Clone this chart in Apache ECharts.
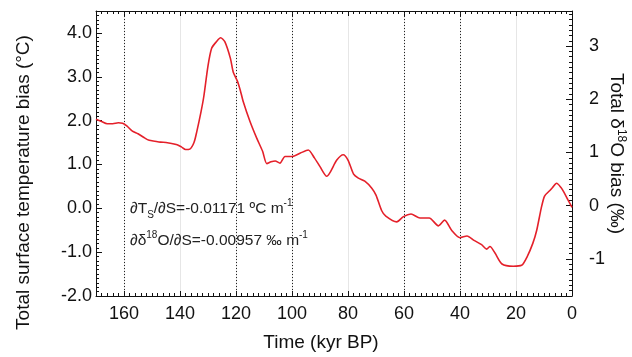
<!DOCTYPE html>
<html>
<head>
<meta charset="utf-8">
<script src="https://cdn.jsdelivr.net/npm/echarts@6/dist/echarts.min.js"></script>
<style>html,body{margin:0;padding:0;background:#fff;}#c{width:632px;height:357px;}</style>
</head>
<body>
<div id="c"></div>
<script>
// Time in kyr BP
const years = [170,168,166,164,162,160.5,159,157,155,153,151,149,147,145,143,141,139.5,138,136.5,135,134,132.5,131.5,130,128.7,127,125.5,124,122,121,119.5,118.5,117.4,115,112.6,110.5,109,107.5,106,104.3,102.5,100,97,94.2,92,90,87.6,84,81.7,80,78,76.3,74,71.5,70,68,66.5,62.6,60.2,57.5,54.3,51,47.7,45.5,43,40,37.5,35,32.3,30.5,29.3,27.5,25,21,18,16,14,12.6,11,9.8,8,7,5.5,4,3,1.5,0];
// Total surface temperature bias (°C)
const tempBias = [2.03,1.98,1.93,1.93,1.95,1.94,1.88,1.76,1.70,1.62,1.55,1.53,1.51,1.50,1.48,1.45,1.40,1.34,1.35,1.50,1.75,2.20,2.55,3.25,3.65,3.80,3.89,3.80,3.42,3.11,2.90,2.70,2.43,1.98,1.60,1.30,1.02,1.06,1.08,1.03,1.18,1.18,1.26,1.33,1.15,0.95,0.73,1.10,1.22,1.10,0.78,0.69,0.62,0.46,0.30,-0.05,-0.18,-0.31,-0.19,-0.13,-0.22,-0.22,-0.40,-0.27,-0.50,-0.67,-0.63,-0.73,-0.83,-0.93,-0.87,-1.02,-1.27,-1.32,-1.30,-1.10,-0.80,-0.50,0.00,0.28,0.40,0.47,0.57,0.48,0.38,0.20,0.02];
// Dotted reference lines (kyr BP)
const dottedYears = [160,120,100,60,40];
const xTicks = [0,20,40,60,80,100,120,140,160];
const leftTicks = [-2,-1,0,1,2,3,4];
const rightTicks = [-1,0,1,2,3];

const FONT = '"Liberation Sans", Arial, Helvetica, sans-serif';
const chart = echarts.init(document.getElementById('c'), null, {renderer: 'canvas'});

const tickOnly = (len) => ({show: true, inside: true, length: len, lineStyle: {color: '#111', width: 1}});
const frameLine = {show: true, onZero: false, lineStyle: {color: '#111', width: 1}};
const noLine = {show: false, onZero: false};

chart.setOption({
  animation: false,
  backgroundColor: '#fff',
  grid: {left: 96, right: 60, top: 11, bottom: 61, containLabel: false, outerBoundsMode: 'none'},
  xAxis: [
    {
      type: 'value', position: 'bottom', inverse: true, min: 0, max: 170, interval: 20,
      axisLine: frameLine,
      axisTick: tickOnly(5),
      axisLabel: {show: true, margin: 9, color: '#111', fontSize: 18, fontFamily: FONT,
        showMaxLabel: false, formatter: v => xTicks.includes(v) ? String(v) : ''},
      splitLine: {show: true, lineStyle: {color: '#e6e6e6', width: 1}},
      name: 'Time (kyr BP)', nameLocation: 'middle', nameGap: 37, nameMoveOverlap: false,
      nameTextStyle: {color: '#111', fontSize: 19, fontFamily: FONT, padding: [0, 26, 0, 0]}
    },
    {
      type: 'value', position: 'top', inverse: true, min: 0, max: 170, interval: 20,
      axisLine: frameLine,
      axisTick: tickOnly(5), axisLabel: {show: false}, splitLine: {show: false}
    },
    {
      type: 'value', position: 'bottom', inverse: true, min: 0, max: 170, interval: 2,
      axisLine: noLine, axisTick: tickOnly(3), axisLabel: {show: false}, splitLine: {show: false}
    },
    {
      type: 'value', position: 'top', inverse: true, min: 0, max: 170, interval: 2,
      axisLine: noLine, axisTick: tickOnly(3), axisLabel: {show: false}, splitLine: {show: false}
    }
  ],
  yAxis: [
    {
      type: 'value', position: 'left', min: -2, max: 4.5, interval: 1,
      axisLine: frameLine,
      axisTick: tickOnly(6),
      axisLabel: {show: true, margin: 4, color: '#111', fontSize: 18, fontFamily: FONT,
        showMaxLabel: false, formatter: v => leftTicks.includes(v) ? v.toFixed(1) : ''},
      splitLine: {show: false},
      name: 'Total surface temperature bias (°C)', nameLocation: 'middle', nameGap: 63, nameMoveOverlap: false,
      nameTextStyle: {color: '#111', fontSize: 19, fontFamily: FONT, padding: [0, 58, 0, 0]}
    },
    {
      type: 'value', position: 'right', min: -1.7, max: 3.66,
      axisLine: frameLine,
      axisTick: tickOnly(6),
      axisLabel: {show: true, margin: 17, color: '#111', fontSize: 18, fontFamily: FONT,
        showMinLabel: false, showMaxLabel: false,
        formatter: v => rightTicks.includes(v) ? String(v) : ''},
      splitLine: {show: false},
      name: '{a|Total δ}{s|18}{a|O bias (‰)}', nameLocation: 'middle', nameGap: 33, nameRotate: -90,
      nameMoveOverlap: false,
      nameTextStyle: {color: '#111', fontSize: 19, fontFamily: FONT,
        rich: {
          a: {fontSize: 19, fontFamily: FONT, color: '#111', lineHeight: 22},
          s: {fontSize: 12, fontFamily: FONT, color: '#111', lineHeight: 12, verticalAlign: 'top'}
        }}
    },
    {
      type: 'value', position: 'left', min: -2, max: 4.5, interval: 0.1,
      axisLine: noLine, axisTick: tickOnly(3), axisLabel: {show: false}, splitLine: {show: false}
    },
    {
      type: 'value', position: 'right', min: -1.7, max: 3.66, interval: 0.1,
      axisLine: noLine, axisTick: tickOnly(3), axisLabel: {show: false}, splitLine: {show: false}
    }
  ],
  series: [
    {
      type: 'line', xAxisIndex: 0, yAxisIndex: 0,
      data: years.map((y, i) => [y, tempBias[i]]),
      showSymbol: false, smooth: 0.25,
      lineStyle: {color: '#e4202a', width: 1.6},
      z: 5,
      markLine: {
        silent: true, symbol: ['none', 'none'], label: {show: false},
        lineStyle: {color: '#222', type: [1, 2], width: 1},
        data: dottedYears.map(v => ({xAxis: v}))
      }
    }
  ],
  graphic: [
    {
      type: 'text', left: 130, top: 198, z: 10,
      style: {
        text: '{n|∂T}{b|S}{n|/∂S=-0.01171 ºC m}{t|-1}',
        rich: {
          n: {fontSize: 15.5, fontFamily: FONT, fill: '#222', lineHeight: 22},
          b: {fontSize: 10, fontFamily: FONT, fill: '#222', lineHeight: 11, verticalAlign: 'bottom'},
          t: {fontSize: 10, fontFamily: FONT, fill: '#222', lineHeight: 11, verticalAlign: 'top'}
        }
      }
    },
    {
      type: 'text', left: 130, top: 230, z: 10,
      style: {
        text: '{n|∂δ}{t|18}{n|O/∂S=-0.00957 ‰ m}{t|-1}',
        rich: {
          n: {fontSize: 15.5, fontFamily: FONT, fill: '#222', lineHeight: 22},
          t: {fontSize: 10, fontFamily: FONT, fill: '#222', lineHeight: 11, verticalAlign: 'top'}
        }
      }
    }
  ]
});
</script>
</body>
</html>
